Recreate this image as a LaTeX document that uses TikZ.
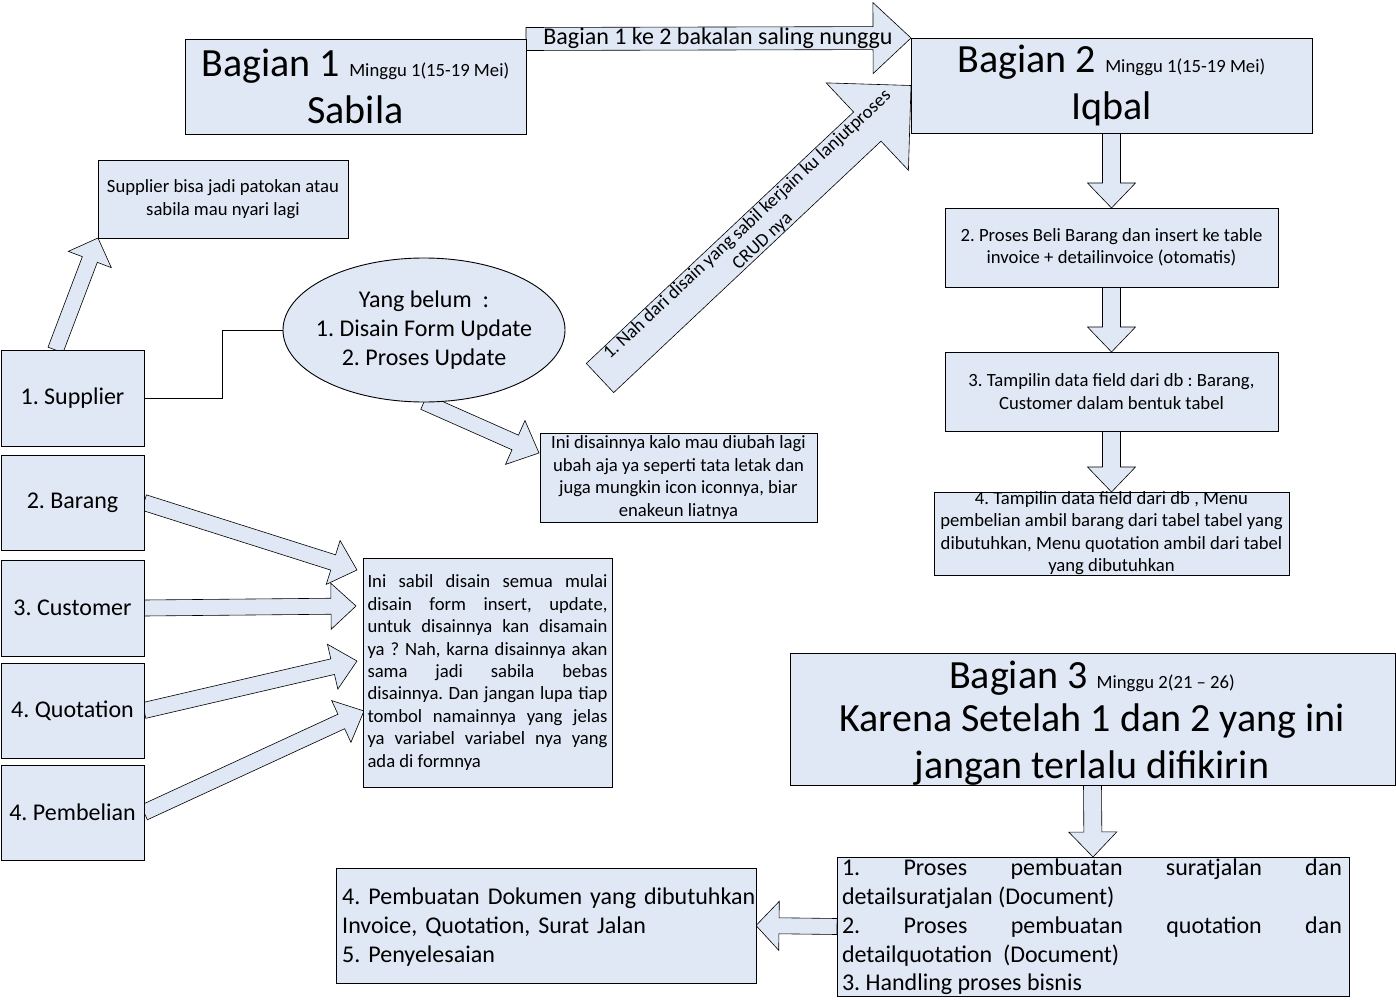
\documentclass[tikz,border=0pt]{standalone}
\usepackage{fontspec}
\setmainfont{Carlito}
\usetikzlibrary{calc,shapes.geometric,backgrounds}
\definecolor{boxfill}{RGB}{224,232,245}
\frenchspacing
\hyphenpenalty=10000 \exhyphenpenalty=10000 \tolerance=10000 \emergencystretch=20pt
% block arrow: tail, tip, half shaft, half head, head length
\newcommand\blockarrow[5]{%
  \path ($(#2)!#5pt!(#1)$) coordinate (baneck);
  \draw[barrow] ($(#1)!#3pt!90:(#2)$) -- ($(baneck)!#3pt!90:(#2)$) -- ($(baneck)!#4pt!90:(#2)$) -- (#2) -- ($(baneck)!#4pt!-90:(#2)$) -- ($(baneck)!#3pt!-90:(#2)$) -- ($(#1)!#3pt!-90:(#2)$) -- cycle;}
\begin{document}
\begin{tikzpicture}[x=1pt,y=-1pt,
  rbox/.style={draw=black, line width=0.9pt, fill=boxfill, inner sep=0pt, outer sep=0pt},
  barrow/.style={draw=black, line width=0.6pt, fill=boxfill, line join=miter},
  conn/.style={draw=black, line width=0.9pt},
  txt/.style={inner sep=0pt, align=center},
  fbig/.style={font=\fontsize{40}{47}\selectfont},
  fmid/.style={font=\fontsize{24}{28.8}\selectfont},
  fsml/.style={font=\fontsize{18.67}{22.4}\selectfont}]
\useasboundingbox (0,0) rectangle (1396,1000);

% boxes
\node[rbox, minimum width=341pt, minimum height=95pt] (b1) at (355.5,86.5) {};
\node[rbox, minimum width=401pt, minimum height=95pt] (b2) at (1111.5,85.5) {};
\node[rbox, fsml, align=center, minimum width=250pt, minimum height=78pt] (note) at (223,199) {Supplier bisa jadi patokan atau\\sabila mau nyari lagi};
\node[rbox, fmid, minimum width=143pt, minimum height=96pt] (sup) at (72.5,398) {1. Supplier};
\node[rbox, fmid, minimum width=143pt, minimum height=95pt] (bar) at (72.5,502.5) {2. Barang};
\node[rbox, fmid, minimum width=143pt, minimum height=96pt] (cus) at (72.5,608) {3. Customer};
\node[rbox, fmid, minimum width=143pt, minimum height=95pt] (quo) at (72.5,710.5) {4. Quotation};
\node[rbox, fmid, minimum width=143pt, minimum height=95pt] (pem) at (72.5,812.5) {4. Pembelian};
\node[rbox, ellipse, minimum width=282pt, minimum height=144pt] (ell) at (424,330) {};
\node[rbox, fsml, align=center, minimum width=277pt, minimum height=89pt] (dis) at (678.5,477.5) {Ini disainnya kalo mau diubah lagi\\ubah aja ya seperti tata letak dan\\juga mungkin icon iconnya, biar\\enakeun liatnya};
\node[rbox, fsml, text width=240pt, align=justify, minimum width=249pt, minimum height=229pt] (big) at (487.5,672.5) {Ini sabil disain semua mulai\linebreak disain form insert, update,\linebreak untuk disainnya kan disamain\linebreak ya ? Nah, karna disainnya akan\linebreak sama jadi sabila bebas\linebreak disainnya. Dan jangan lupa tiap\linebreak tombol namainnya yang jelas\linebreak ya variabel variabel nya yang\linebreak ada di formnya};
\node[rbox, fsml, align=center, minimum width=333pt, minimum height=79pt] (p2) at (1111.5,247.5) {2. Proses Beli Barang dan insert ke table\\invoice + detailinvoice (otomatis)};
\node[rbox, fsml, align=center, minimum width=333pt, minimum height=79pt] (p3) at (1111.5,391.5) {3. Tampilin data field dari db : Barang,\\Customer dalam bentuk tabel};
\node[rbox, minimum width=355pt, minimum height=83pt] (p4) at (1111.5,533.5) {};
\node[rbox, minimum width=605pt, minimum height=132pt] (b3) at (1092.5,719) {};
\node[rbox, minimum width=512pt, minimum height=139pt] (lst) at (1093,926.5) {};
\node[rbox, minimum width=420pt, minimum height=115pt] (fin) at (546,925.5) {};

% connector
\draw[conn] (sup.east) -- ++(78,0) |- (ell.west);

% free arrow ends
\coordinate (dtail) at (600,378);
\coordinate (stail) at ($(sup.north)+(-17,0)$);
\coordinate (etip) at (539,453);
\coordinate (bartip) at (357,570);
\coordinate (custip) at (356,606);
\coordinate (quotip) at (357,661);
\coordinate (pemtip) at (364,711);

\begin{pgfonlayer}{background}
\fill[white] (0,0) rectangle (1396,1000);
\blockarrow{b1.north east}{b2.north west}{11.5}{35.5}{38}
\blockarrow{dtail}{b2.west}{20}{60}{60}
\blockarrow{stail}{note.south west}{8}{23}{23}
\blockarrow{ell.south}{etip}{8}{24}{26}
\blockarrow{bar.east}{bartip}{8}{23}{25}
\blockarrow{cus.east}{custip}{8}{23}{25}
\blockarrow{quo.east}{quotip}{8}{23}{25}
\blockarrow{pem.east}{pemtip}{8}{23}{25}
\blockarrow{b2.south}{p2.north}{9}{24}{25}
\blockarrow{p2.south}{p3.north}{9}{24}{25}
\blockarrow{p3.south}{p4.north}{9}{24}{25}
\blockarrow{b3.south}{lst.north}{9}{24}{25}
\blockarrow{lst.west}{fin.east}{8}{24.5}{23}
\end{pgfonlayer}

% texts
\node[txt, fmid] (te) at (424,330) {Yang belum\ \ :\\1. Disain Form Update\\2. Proses Update};
\node[txt, fbig] (t1) at (355.5,86.5) {Bagian 1 {\fontsize{18.67}{22.4}\selectfont Minggu 1(15-19 Mei)}\\Sabila};
\node[txt, fbig] (t2) at (1111.5,85) {Bagian 2 {\fontsize{18.67}{22.4}\selectfont Minggu 1(15-19 Mei)}\\Iqbal};
\node[txt, fbig] (t3a) at (1092,678) {Bagian 3 {\fontsize{18.67}{22.4}\selectfont Minggu 2(21 – 26)}};
\node[txt, fbig] (t3b) at (1092,745) {Karena Setelah 1 dan 2 yang ini\\jangan terlalu difikirin};
\node[txt, fsml] (t4) at (1111.5,533) {4. Tampilin data field dari db , Menu\\pembelian ambil barang dari tabel tabel yang\\dibutuhkan, Menu quotation ambil dari tabel\\yang dibutuhkan};
\node[txt, fmid, text width=500pt, align=justify] (tl) at (1092,927) {1. Proses pembuatan suratjalan dan\linebreak detailsuratjalan (Document)\\2. Proses pembuatan quotation dan\linebreak detailquotation\ \ (Document)\\3. Handling proses bisnis};
\node[txt, fmid, text width=420pt, align=left, anchor=west] (tf) at (342,927) {4. Pembuatan Dokumen yang dibutuhkan\\Invoice, Quotation, Surat Jalan\\5. Penyelesaian};
\node[txt, fmid] (l12) at (718,38) {Bagian 1 ke 2 bakalan saling nunggu};
\node[txt, fsml, rotate=43] (ld) at (755,233) {1. Nah dari disain yang sabil kerjain ku lanjutproses\\CRUD nya};
\end{tikzpicture}
\end{document}
